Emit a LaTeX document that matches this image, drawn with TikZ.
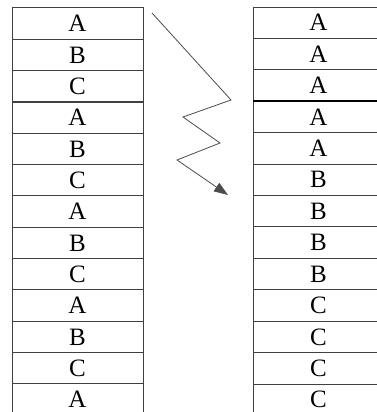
\documentclass[tikz,border=0pt]{standalone}
\usepackage{fontspec}
\setmainfont{Liberation Serif}
\usetikzlibrary{arrows.meta}

\tikzset{
    cellbox/.style={draw=black!75, line width=1pt, minimum width=131pt,
        minimum height=31.35pt, inner sep=0pt,
        font=\fontsize{25}{25}\selectfont}
}

\begin{document}
\begin{tikzpicture}[x=1pt,y=-1pt]
\useasboundingbox[fill=white] (0,0) rectangle (376,412);

% unsorted column
\foreach \c [count=\i] in {A,B,C,A,B,C,A,B,C,A,B,C,A}
  \node[cellbox] (l\i) at (77.5,{8+31.33*(\i-0.5)}) {\c};

% sorted column
\foreach \c [count=\i] in {A,A,A,A,A,B,B,B,B,C,C,C,C}
  \node[cellbox] (r\i) at (318.5,{7+31.42*(\i-0.5)}) {\c};
\draw[line width=1.8pt] (r4.north west) -- (r4.north east);

% zigzag arrow
\coordinate (z0) at (152,13);
\coordinate (z1) at (231,100);
\coordinate (z2) at (183,117);
\coordinate (z3) at (220,143);
\coordinate (z4) at (177,160);
\coordinate (z5) at (228,195);
\draw[black!70, line width=0.8pt, -{Triangle[length=14pt,width=10pt]}]
  (z0) -- (z1) -- (z2) -- (z3) -- (z4) -- (z5);
\end{tikzpicture}
\end{document}
